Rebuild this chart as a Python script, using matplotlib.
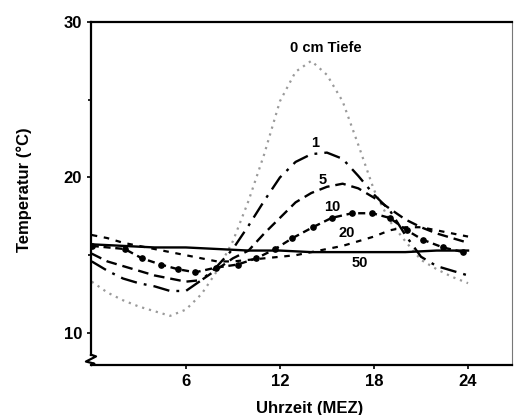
#!/usr/bin/env python3

import matplotlib
matplotlib.use("Agg")
import matplotlib.pyplot as plt

plt.rcParams['font.family'] = ['Liberation Sans', 'DejaVu Sans']

# Hours of the day (MEZ)
hours = [0, 1, 2, 3, 4, 5, 6, 7, 8, 9, 10, 11, 12,
         13, 14, 15, 16, 17, 18, 19, 20, 21, 22, 23, 24]

# Soil temperature (deg C) at each depth
temp_0cm = [13.3, 12.6, 12.1, 11.7, 11.4, 11.1, 11.5, 12.5, 14.0, 15.9, 18.5, 21.5, 24.9,
            26.8, 27.5, 26.6, 24.9, 22.1, 19.2, 17.2, 15.9, 14.7, 14.1, 13.6, 13.2]
temp_1cm = [14.6, 14.0, 13.5, 13.2, 13.0, 12.7, 12.7, 13.4, 14.3, 15.4, 16.9, 18.5, 20.0,
            21.0, 21.5, 21.6, 21.2, 20.1, 18.9, 17.9, 16.3, 14.9, 14.3, 14.0, 13.7]
temp_5cm = [15.1, 14.6, 14.3, 14.0, 13.7, 13.5, 13.3, 13.4, 14.1, 14.8, 15.3, 16.4, 17.4,
            18.4, 19.0, 19.4, 19.6, 19.3, 18.7, 18.0, 17.3, 16.8, 16.4, 16.1, 15.8]
temp_20cm = [16.3, 16.1, 15.8, 15.6, 15.4, 15.2, 15.0, 14.8, 14.6, 14.6, 14.7, 14.8, 14.9,
             15.0, 15.2, 15.4, 15.6, 15.9, 16.2, 16.6, 16.8, 16.8, 16.6, 16.4, 16.2]
temp_50cm = [15.7, 15.65, 15.6, 15.55, 15.5, 15.5, 15.5, 15.45, 15.4, 15.35, 15.3, 15.3, 15.3,
             15.25, 15.2, 15.2, 15.2, 15.2, 15.2, 15.2, 15.2, 15.25, 15.3, 15.3, 15.3]

# 10 cm readings were taken at their own times
hours_10cm = [0, 2.1, 3.2, 4.4, 5.5, 6.6, 7.9, 9.3, 10.5, 11.7, 12.8, 14.1,
              15.3, 16.6, 17.9, 19.0, 20.1, 21.1, 22.4, 23.7]
temp_10cm = [15.6, 15.4, 14.8, 14.4, 14.1, 13.9, 14.2, 14.4, 14.8, 15.4, 16.1, 16.8,
             17.4, 17.7, 17.7, 17.4, 16.6, 16.0, 15.5, 15.2]

# Curve labels: text, x, y
depth_labels = [("0 cm Tiefe", 14.93, 28.33), ("1", 14.23, 22.22), ("5", 14.74, 19.84),
                ("10", 15.32, 18.1), ("20", 16.27, 16.43), ("50", 17.1, 14.5)]


def main():
    fig = plt.figure(figsize=(5.14, 4.15), dpi=100)
    ax = fig.add_axes([0.177, 0.1205, 0.819, 0.8265])

    ax.plot(hours, temp_0cm, color='#9a9a9a', lw=1.6, linestyle=(0, (1, 2.2)))
    ax.plot(hours, temp_1cm, color='black', lw=1.7, linestyle=(0, (7, 3, 1.2, 3)))
    ax.plot(hours, temp_5cm, color='black', lw=1.7, linestyle=(0, (4.5, 2.5)))
    ax.plot(hours_10cm, temp_10cm, color='black', lw=1.7, linestyle=(0, (3, 2)),
            marker='o', markersize=3.8)
    ax.plot(hours, temp_20cm, color='black', lw=1.6, linestyle=(0, (2.5, 3)))
    ax.plot(hours, temp_50cm, color='black', lw=1.7)

    for text, x, y in depth_labels:
        ax.text(x, y, text, ha='center', va='center', fontsize=10.5, fontweight='bold')

    ax.set_xlim(-0.05, 26.8)
    ax.set_ylim(7.94, 30)
    ax.set_xticks([6, 12, 18, 24])
    ax.set_yticks([10, 20, 30])
    ax.set_yticks([15, 25], minor=True)
    ax.tick_params(axis='both', which='both', direction='out', length=3, width=1.2,
                   labelsize=12)
    ax.tick_params(axis='y', which='minor', length=2)
    for lab in ax.get_xticklabels() + ax.get_yticklabels():
        lab.set_fontweight('bold')

    for side in ['left', 'bottom', 'top']:
        ax.spines[side].set_linewidth(1.6)
    ax.spines['right'].set_linewidth(0.8)
    ax.spines['right'].set_color('#777777')

    # axis break on the left spine near the bottom
    ax.spines['left'].set_bounds(8.6, 30)
    ax.plot([0, 0.012, -0.012, 0.008, 0.002], [0.03, 0.025, 0.01, 0.004, 0.0],
            transform=ax.transAxes, color='black', lw=1.6, clip_on=False)

    ax.set_xlabel('Uhrzeit (MEZ)', fontsize=12, fontweight='bold')
    ax.xaxis.set_label_coords(0.52, -0.105)
    ax.set_ylabel('Temperatur (°C)', fontsize=12, fontweight='bold')
    ax.yaxis.set_label_coords(-0.14, 0.51)

    fig.savefig('out.png', dpi=100)


if __name__ == "__main__":
    main()
